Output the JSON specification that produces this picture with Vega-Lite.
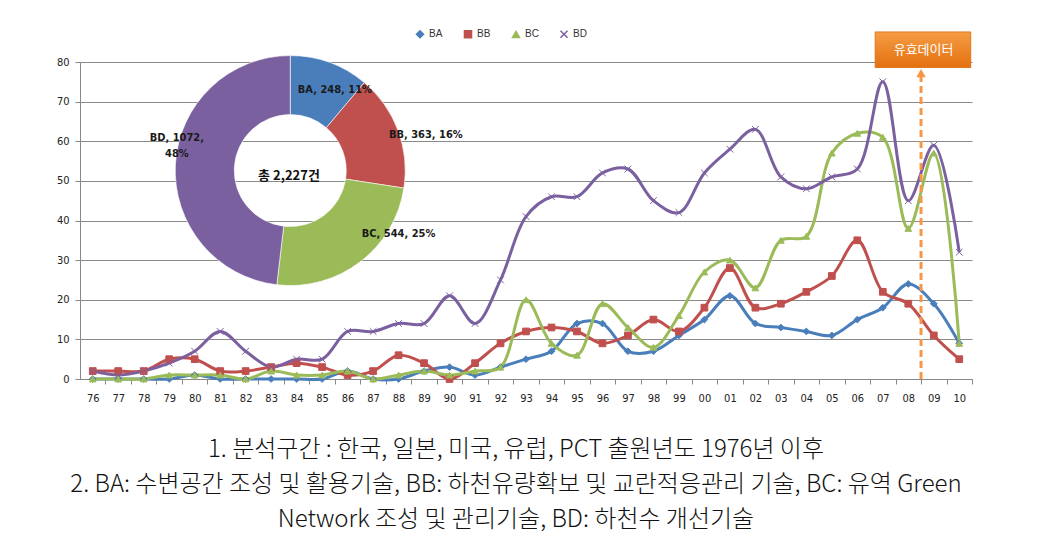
{
  "$schema": "https://vega.github.io/schema/vega-lite/v6.json",
  "width": 892,
  "height": 317,
  "autosize": "none",
  "padding": {"left": 80, "top": 62, "right": 75, "bottom": 155},
  "background": "white",
  "config": {
    "view": {"stroke": null},
    "font": "Liberation Sans",
    "axisX": {"tickCount": 35, "labelOverlap": false},
    "axisY": {"tickCount": 9, "labelOverlap": false},
    "legend": {"orient": "none", "legendX": 335, "legendY": -33, "direction": "horizontal", "title": null, "labelFontSize": 10, "labelColor": "#333", "symbolSize": 50, "columnPadding": 18, "symbolStrokeWidth": 1.5}
  },
  "title": {
    "text": ["1. 분석구간 : 한국, 일본, 미국, 유럽, PCT 출원년도 1976년 이후", "2. BA: 수변공간 조성 및 활용기술, BB: 하천유량확보 및 교란적응관리 기술, BC: 유역 Green", "Network 조성 및 관리기술, BD: 하천수   개선기술"],
    "orient": "bottom",
    "anchor": "middle",
    "font": "Noto Sans CJK KR",
    "fontSize": 24,
    "fontWeight": 300,
    "color": "#111",
    "lineHeight": 35,
    "offset": 35,
    "dx": -10
  },
  "data": {
    "values": [
      {"year": 1976, "BA": 0, "BB": 2, "BC": 0, "BD": 2},
      {"year": 1977, "BA": 0, "BB": 2, "BC": 0, "BD": 1},
      {"year": 1978, "BA": 0, "BB": 2, "BC": 0, "BD": 2},
      {"year": 1979, "BA": 0, "BB": 5, "BC": 1, "BD": 4},
      {"year": 1980, "BA": 1, "BB": 5, "BC": 1, "BD": 7},
      {"year": 1981, "BA": 0, "BB": 2, "BC": 1, "BD": 12},
      {"year": 1982, "BA": 0, "BB": 2, "BC": 0, "BD": 7},
      {"year": 1983, "BA": 0, "BB": 3, "BC": 2, "BD": 3},
      {"year": 1984, "BA": 0, "BB": 4, "BC": 1, "BD": 5},
      {"year": 1985, "BA": 0, "BB": 3, "BC": 1, "BD": 5},
      {"year": 1986, "BA": 2, "BB": 1, "BC": 2, "BD": 12},
      {"year": 1987, "BA": 0, "BB": 2, "BC": 0, "BD": 12},
      {"year": 1988, "BA": 0, "BB": 6, "BC": 1, "BD": 14},
      {"year": 1989, "BA": 2, "BB": 4, "BC": 2, "BD": 14},
      {"year": 1990, "BA": 3, "BB": 0, "BC": 1, "BD": 21},
      {"year": 1991, "BA": 1, "BB": 4, "BC": 2, "BD": 14},
      {"year": 1992, "BA": 3, "BB": 9, "BC": 3, "BD": 25},
      {"year": 1993, "BA": 5, "BB": 12, "BC": 20, "BD": 41},
      {"year": 1994, "BA": 7, "BB": 13, "BC": 9, "BD": 46},
      {"year": 1995, "BA": 14, "BB": 12, "BC": 6, "BD": 46},
      {"year": 1996, "BA": 14, "BB": 9, "BC": 19, "BD": 52},
      {"year": 1997, "BA": 7, "BB": 11, "BC": 13, "BD": 53},
      {"year": 1998, "BA": 7, "BB": 15, "BC": 8, "BD": 45},
      {"year": 1999, "BA": 11, "BB": 12, "BC": 16, "BD": 42},
      {"year": 2000, "BA": 15, "BB": 18, "BC": 27, "BD": 52},
      {"year": 2001, "BA": 21, "BB": 28, "BC": 30, "BD": 58},
      {"year": 2002, "BA": 14, "BB": 18, "BC": 23, "BD": 63},
      {"year": 2003, "BA": 13, "BB": 19, "BC": 35, "BD": 51},
      {"year": 2004, "BA": 12, "BB": 22, "BC": 36, "BD": 48},
      {"year": 2005, "BA": 11, "BB": 26, "BC": 57, "BD": 51},
      {"year": 2006, "BA": 15, "BB": 35, "BC": 62, "BD": 53},
      {"year": 2007, "BA": 18, "BB": 22, "BC": 61, "BD": 75},
      {"year": 2008, "BA": 24, "BB": 19, "BC": 38, "BD": 45},
      {"year": 2009, "BA": 19, "BB": 11, "BC": 57, "BD": 59},
      {"year": 2010, "BA": 9, "BB": 5, "BC": 9, "BD": 32}
    ]
  },
  "layer": [
    {
      "transform": [{"fold": ["BA", "BB", "BC", "BD"], "as": ["series", "value"]}],
      "mark": {"type": "line", "interpolate": "catmull-rom", "strokeWidth": 3},
      "encoding": {
        "x": {
          "field": "year", "type": "quantitative",
          "scale": {"domain": [1975.5, 2010.5], "nice": false, "zero": false},
          "axis": {
            "title": null, "grid": false, "tickCount": 35,
            "values": [1976,1977,1978,1979,1980,1981,1982,1983,1984,1985,1986,1987,1988,1989,1990,1991,1992,1993,1994,1995,1996,1997,1998,1999,2000,2001,2002,2003,2004,2005,2006,2007,2008,2009,2010],
            "labelExpr": "substring(toString(datum.value), 2, 4)",
            "tickOffset": 12.75, "labelOffset": -12.75,
            "tickSize": 5, "tickColor": "#888", "domainColor": "#888",
            "labelFontSize": 11, "labelColor": "#222", "labelPadding": 8, "labelFont": "DejaVu Sans Condensed", "labelFlush": false
          }
        },
        "y": {
          "field": "value", "type": "quantitative",
          "scale": {"domain": [0, 80], "nice": false},
          "axis": {
            "title": null, "values": [0,10,20,30,40,50,60,70,80], "tickCount": 9,
            "grid": true, "gridColor": "#8a8a8a", "gridWidth": 1,
            "tickSize": 5, "tickColor": "#888", "domainColor": "#888",
            "labelFontSize": 11, "labelColor": "#222", "labelPadding": 6, "labelFont": "DejaVu Sans Condensed"
          }
        },
        "stroke": {
          "field": "series", "type": "nominal",
          "scale": {"domain": ["BA", "BB", "BC", "BD"], "range": ["#4a7ebb", "#c0504d", "#9bbb59", "#7b60a0"]}
        }
      }
    },
    {
      "transform": [{"fold": ["BA", "BB", "BC", "BD"], "as": ["series", "value"]}],
      "mark": {"type": "point", "filled": true, "size": 45, "strokeWidth": 1, "opacity": 1},
      "encoding": {
        "x": {"field": "year", "type": "quantitative"},
        "y": {"field": "value", "type": "quantitative"},
        "fill": {
          "field": "series", "type": "nominal",
          "scale": {"domain": ["BA", "BB", "BC", "BD"], "range": ["#4a7ebb", "#c0504d", "#9bbb59", "#7b60a0"]}
        },
        "stroke": {"field": "series", "type": "nominal"},
        "shape": {
          "field": "series", "type": "nominal",
          "scale": {"domain": ["BA", "BB", "BC", "BD"], "range": ["diamond", "square", "triangle-up", "M-1,-1L1,1M1,-1L-1,1"]}
        }
      }
    },
    {
      "data": {"values": [
        {"series": "BA", "n": 248},
        {"series": "BB", "n": 363},
        {"series": "BC", "n": 544},
        {"series": "BD", "n": 1072}
      ]},
      "mark": {"type": "arc", "innerRadius": 56, "outerRadius": 115, "stroke": "#ffffff", "strokeWidth": 0.6},
      "encoding": {
        "theta": {"field": "n", "type": "quantitative", "stack": true},
        "order": {"field": "series", "sort": "ascending"},
        "fill": {"field": "series", "type": "nominal"},
        "x": {"datum": 1983.75},
        "y": {"datum": 52.6}
      }
    },
    {
      "data": {"values": [{}]},
      "mark": {"type": "text", "text": "BA, 248, 11%", "font": "DejaVu Sans Condensed", "fontWeight": "bold", "fontSize": 11, "color": "#1a1a1a"},
      "encoding": {"x": {"datum": 1985.5}, "y": {"datum": 72.9}}
    },
    {
      "data": {"values": [{}]},
      "mark": {"type": "text", "text": "BB, 363, 16%", "font": "DejaVu Sans Condensed", "fontWeight": "bold", "fontSize": 11, "color": "#1a1a1a"},
      "encoding": {"x": {"datum": 1989.07}, "y": {"datum": 61.5}}
    },
    {
      "data": {"values": [{}]},
      "mark": {"type": "text", "text": "BC, 544, 25%", "font": "DejaVu Sans Condensed", "fontWeight": "bold", "fontSize": 11, "color": "#1a1a1a"},
      "encoding": {"x": {"datum": 1988.0}, "y": {"datum": 36.6}}
    },
    {
      "data": {"values": [{}]},
      "mark": {"type": "text", "text": ["BD, 1072,", "48%"], "lineHeight": 16, "font": "DejaVu Sans Condensed", "fontWeight": "bold", "fontSize": 11, "color": "#1a1a1a"},
      "encoding": {"x": {"datum": 1979.3}, "y": {"datum": 60.9}}
    },
    {
      "data": {"values": [{}]},
      "mark": {"type": "text", "text": "총 2,227건", "font": "Noto Sans CJK KR", "fontWeight": "bold", "fontSize": 13, "color": "#111"},
      "encoding": {"x": {"datum": 1983.7}, "y": {"datum": 51.2}}
    },
    {
      "data": {"values": [{}]},
      "mark": {"type": "rule", "color": "#f79646", "strokeWidth": 3, "strokeDash": [7, 4]},
      "encoding": {"x": {"datum": 2008.5}, "y": {"datum": 0}, "y2": {"datum": 76.3}}
    },
    {
      "data": {"values": [{}]},
      "mark": {"type": "point", "shape": "triangle-up", "filled": true, "color": "#f79646", "size": 90, "opacity": 1},
      "encoding": {"x": {"datum": 2008.5}, "y": {"datum": 77.2}}
    },
    {
      "data": {"values": [{}]},
      "mark": {"type": "rect", "fill": {"gradient": "linear", "x1": 0, "y1": 0, "x2": 0, "y2": 1, "stops": [{"offset": 0, "color": "#f59d45"}, {"offset": 1, "color": "#e4700f"}]}, "stroke": "#d8680d", "strokeWidth": 0.8},
      "encoding": {"x": {"datum": 2006.7}, "x2": {"datum": 2010.45}, "y": {"datum": 78.6}, "y2": {"datum": 87.6}}
    },
    {
      "data": {"values": [{}]},
      "mark": {"type": "text", "text": "유효데이터", "font": "Noto Sans CJK KR", "fontSize": 13, "color": "#ffffff"},
      "encoding": {"x": {"datum": 2008.6}, "y": {"datum": 83.1}}
    }
  ]
}
